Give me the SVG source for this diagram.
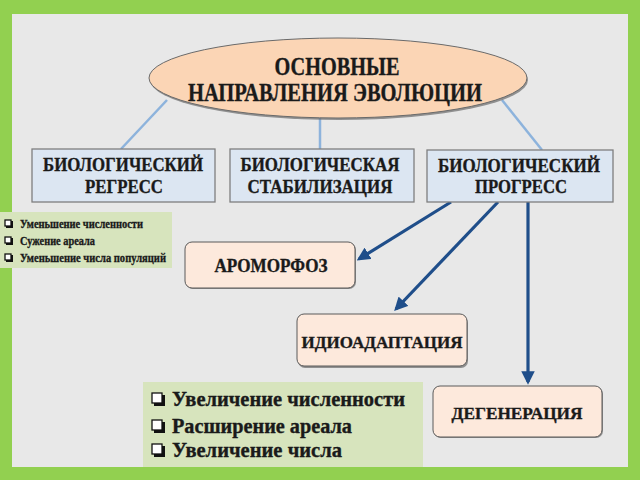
<svg xmlns="http://www.w3.org/2000/svg" width="640" height="480" viewBox="0 0 640 480">
  <defs>
    <style>
      text { font-family: 'Liberation Serif', 'DejaVu Serif', serif; font-weight: 700; fill: #1a1a1a; stroke: #1a1a1a; stroke-width: 0.35; }
      .t { text-anchor: middle; }
      .top { fill: #dce6f2; stroke: #7f7f7f; stroke-width: 1.3; }
      .peach { fill: #fde9dc; stroke: #5a5a5a; stroke-width: 1; }
      .shadow { fill: #6b6b6b; opacity: 0.7; }
      .line { stroke: #8db3dc; stroke-width: 2.5; fill: none; }
      .arrow { stroke: #1f4e8a; stroke-width: 3.2; fill: none; marker-end: url(#ah); }
      .list { fill: #d7e4bd; }
      .bul { fill: #ffffff; stroke: #111; stroke-width: 1.3; }
      .bulsh { fill: #111; }
    </style>
    <marker id="ah" viewBox="0 0 10 10" refX="8" refY="5" markerWidth="4.2" markerHeight="4.2" orient="auto" markerUnits="strokeWidth">
      <path d="M0,0 L10,5 L0,10 z" fill="#1f4e8a"/>
    </marker>
  </defs>

  <!-- frame -->
  <rect x="0" y="0" width="640" height="480" fill="#92d050"/>
  <rect x="12" y="14" width="616" height="453" fill="#e8e8e8"/>

  <!-- connectors -->
  <g id="connectors">
    <line class="line" x1="167" y1="100" x2="121" y2="149"/>
    <line class="line" x1="320" y1="118" x2="320" y2="149"/>
    <line class="line" x1="502" y1="100" x2="542" y2="150"/>
    <line class="arrow" x1="451" y1="202" x2="359" y2="259"/>
    <line class="arrow" x1="498" y1="202" x2="396" y2="309"/>
    <line class="arrow" x1="528" y1="202" x2="528" y2="382"/>
  </g>

  <!-- main ellipse -->
  <g id="main">
    <ellipse cx="339" cy="80" rx="189" ry="40" class="shadow"/>
    <ellipse cx="338" cy="78" rx="189" ry="40" fill="#fbd5b5" stroke="#6a6a6a" stroke-width="1"/>
    <text class="t" x="337" y="75" font-size="25" textLength="125" lengthAdjust="spacingAndGlyphs">ОСНОВНЫЕ</text>
    <text class="t" x="335" y="101" font-size="25" textLength="294" lengthAdjust="spacingAndGlyphs">НАПРАВЛЕНИЯ ЭВОЛЮЦИИ</text>
  </g>

  <!-- top row boxes -->
  <g id="regress">
    <rect class="top" x="32" y="149" width="183" height="53"/>
    <text class="t" x="123" y="171" font-size="19" textLength="160" lengthAdjust="spacingAndGlyphs">БИОЛОГИЧЕСКИЙ</text>
    <text class="t" x="124" y="193" font-size="19" textLength="78" lengthAdjust="spacingAndGlyphs">РЕГРЕСС</text>
  </g>
  <g id="stabilization">
    <rect class="top" x="230" y="149" width="184" height="53"/>
    <text class="t" x="320" y="171" font-size="19" textLength="159" lengthAdjust="spacingAndGlyphs">БИОЛОГИЧЕСКАЯ</text>
    <text class="t" x="320" y="193" font-size="19" textLength="145" lengthAdjust="spacingAndGlyphs">СТАБИЛИЗАЦИЯ</text>
  </g>
  <g id="progress">
    <rect class="top" x="427" y="150" width="186" height="52"/>
    <text class="t" x="519" y="172" font-size="19" textLength="162" lengthAdjust="spacingAndGlyphs">БИОЛОГИЧЕСКИЙ</text>
    <text class="t" x="521" y="193" font-size="19" textLength="92" lengthAdjust="spacingAndGlyphs">ПРОГРЕСС</text>
  </g>

  <!-- left list -->
  <g id="regress-list">
    <rect class="list" x="0" y="212" width="172" height="56"/>
    <rect class="bulsh" x="6" y="221" width="7" height="7"/>
    <rect class="bul" x="5" y="220" width="6" height="6"/>
    <rect class="bulsh" x="6" y="238" width="7" height="7"/>
    <rect class="bul" x="5" y="237" width="6" height="6"/>
    <rect class="bulsh" x="6" y="255" width="7" height="7"/>
    <rect class="bul" x="5" y="254" width="6" height="6"/>
    <text x="20" y="228" font-size="13" textLength="123" lengthAdjust="spacingAndGlyphs">Уменьшение численности</text>
    <text x="20" y="245" font-size="13" textLength="75" lengthAdjust="spacingAndGlyphs">Сужение ареала</text>
    <text x="20" y="262" font-size="13" textLength="146" lengthAdjust="spacingAndGlyphs">Уменьшение числа популяций</text>
  </g>

  <!-- aromorphosis -->
  <g id="aromorphosis">
    <rect class="shadow" x="186" y="243" width="170" height="46" rx="7"/>
    <rect class="peach" x="185" y="242" width="170" height="46" rx="7"/>
    <text class="t" x="271" y="272" font-size="18" textLength="113" lengthAdjust="spacingAndGlyphs">АРОМОРФОЗ</text>
  </g>

  <!-- idioadaptation -->
  <g id="idioadaptation">
    <rect class="shadow" x="298" y="316" width="170" height="52" rx="7"/>
    <rect class="peach" x="297" y="314" width="170" height="52" rx="7"/>
    <text class="t" x="382" y="348" font-size="17" textLength="161" lengthAdjust="spacingAndGlyphs">ИДИОАДАПТАЦИЯ</text>
  </g>

  <!-- degeneration -->
  <g id="degeneration">
    <rect class="shadow" x="434" y="387" width="169" height="51" rx="7"/>
    <rect class="peach" x="433" y="386" width="169" height="51" rx="7"/>
    <text class="t" x="517" y="419" font-size="17" textLength="131" lengthAdjust="spacingAndGlyphs">ДЕГЕНЕРАЦИЯ</text>
  </g>

  <!-- bottom list -->
  <g id="progress-list">
    <rect class="list" x="143" y="382" width="280" height="85"/>
    <rect class="bulsh" x="154" y="395" width="11" height="11"/>
    <rect class="bul" x="152" y="393" width="10" height="10"/>
    <rect class="bulsh" x="154" y="422" width="11" height="11"/>
    <rect class="bul" x="152" y="420" width="10" height="10"/>
    <rect class="bulsh" x="154" y="446" width="11" height="11"/>
    <rect class="bul" x="152" y="444" width="10" height="10"/>
    <text x="172" y="406" font-size="20" textLength="233" lengthAdjust="spacingAndGlyphs">Увеличение численности</text>
    <text x="172" y="433" font-size="20" textLength="180" lengthAdjust="spacingAndGlyphs">Расширение ареала</text>
    <text x="172" y="457" font-size="20" textLength="170" lengthAdjust="spacingAndGlyphs">Увеличение числа</text>
  </g>
</svg>
